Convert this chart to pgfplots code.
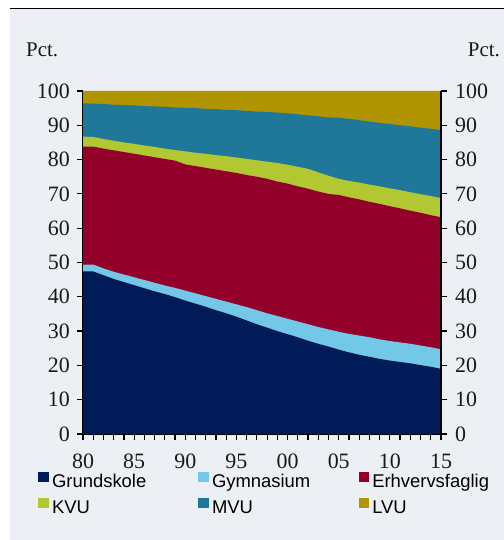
\documentclass[border=0pt]{standalone}
\usepackage{pgfplots}
\pgfplotsset{compat=1.18}
\usepackage{pgfplotstable}
\usepackage{fontspec}
\setmainfont{Liberation Serif}
\newfontfamily\legendfont{Liberation Sans}

\definecolor{bgcol}{HTML}{ECEFF3}
\definecolor{grundcol}{HTML}{001B58}
\definecolor{gymcol}{HTML}{72C8E6}
\definecolor{erhvcol}{HTML}{93002A}
\definecolor{kvucol}{HTML}{B2C832}
\definecolor{mvucol}{HTML}{1F7899}
\definecolor{lvucol}{HTML}{B09400}

% cumulative shares (top edge of each band), pct.
\pgfplotstableread{
year grund gym  erhv kvu  mvu  lvu
1980 47.4 49.4 83.8 86.7 96.4 100
1981 47.4 49.4 83.8 86.6 96.3 100
1982 46.3 48.3 83.2 86.0 96.2 100
1983 45.2 47.3 82.7 85.5 96.0 100
1984 44.3 46.5 82.2 85.0 95.9 100
1985 43.4 45.7 81.7 84.6 95.8 100
1986 42.5 44.9 81.2 84.1 95.6 100
1987 41.6 44.1 80.7 83.7 95.5 100
1988 40.8 43.3 80.2 83.2 95.4 100
1989 39.9 42.6 79.7 82.8 95.2 100
1990 38.9 41.8 78.6 82.4 95.1 100
1991 38.0 41.0 78.1 82.0 95.0 100
1992 37.1 40.2 77.6 81.7 94.8 100
1993 36.1 39.4 77.1 81.3 94.7 100
1994 35.2 38.6 76.6 81.0 94.5 100
1995 34.2 37.8 76.1 80.6 94.4 100
1996 33.1 37.0 75.5 80.2 94.2 100
1997 32.0 36.1 75.0 79.8 94.0 100
1998 31.0 35.2 74.4 79.4 93.9 100
1999 30.0 34.4 73.6 79.0 93.7 100
2000 29.1 33.6 73.0 78.5 93.5 100
2001 28.2 32.8 72.2 77.9 93.2 100
2002 27.2 32.0 71.5 77.3 92.9 100
2003 26.3 31.2 70.7 76.3 92.6 100
2004 25.5 30.5 70.0 75.3 92.3 100
2005 24.6 29.8 69.7 74.4 92.2 100
2006 23.8 29.2 69.0 73.8 91.9 100
2007 23.1 28.7 68.4 73.3 91.5 100
2008 22.5 28.2 67.7 72.7 91.1 100
2009 21.9 27.6 67.1 72.2 90.7 100
2010 21.4 27.1 66.4 71.6 90.4 100
2011 21.0 26.7 65.8 71.1 90.0 100
2012 20.6 26.3 65.1 70.5 89.7 100
2013 20.1 25.8 64.5 69.9 89.3 100
2014 19.6 25.3 63.8 69.4 89.0 100
2015 19.0 24.7 63.2 68.8 88.6 100
}\shares

\pgfplotsset{
  chartbase/.style={
    at={(83bp,106bp)}, anchor=south west,
    scale only axis, width=358bp, height=343bp,
    xmin=1980, xmax=2015, ymin=0, ymax=100,
    ytick={0,10,...,100},
    tick align=outside,
    major tick length=6bp, minor tick length=6bp,
    axis line style={-, line width=1.2bp, black},
    tick style={black, line width=1.2bp},
    tick label style={font=\fontsize{22}{24}\selectfont, text=black!90},
    /pgf/number format/assume math mode=true,
  },
}

\begin{document}
\begin{tikzpicture}
\fill[white] (0,0) rectangle (504bp,540bp);
\fill[bgcol] (10bp,0) rectangle (504bp,530.5bp);
\draw[black, line width=1bp] (10bp,531bp) -- (504bp,531bp);

\begin{axis}[
  chartbase,
  axis x line*=bottom, axis y line*=left,
  xtick={1980,1985,...,2015},
  xticklabels={80,85,90,95,00,05,10,15},
  minor x tick num=4,
  yticklabel style={inner sep=0pt, xshift=-7bp},
  xticklabel style={inner sep=0pt, yshift=-14bp},
  legend columns=3,
  legend cell align=left,
  legend image code/.code={\fill[#1] (0bp,0.7bp) rectangle (9.2bp,10bp);
                            \path[draw=none, fill=none] (0bp,0bp) -- (13.4bp,0bp);},
  legend style={
    at={(-0.1249,-0.1093)}, anchor=north west,
    draw=none, fill=none, inner sep=0pt,
    nodes={inner sep=0pt},
    font=\legendfont\fontsize{18.5}{20}\selectfont,
    row sep=8.6bp,
    /tikz/column 2/.style={column sep=52.1bp},
    /tikz/column 4/.style={column sep=48.3bp},
  },
]
\addplot[fill=lvucol, draw=none, forget plot] table[x=year, y=lvu] {\shares} \closedcycle;
\addplot[fill=mvucol, draw=none, forget plot] table[x=year, y=mvu] {\shares} \closedcycle;
\addplot[fill=kvucol, draw=none, forget plot] table[x=year, y=kvu] {\shares} \closedcycle;
\addplot[fill=erhvcol, draw=none, forget plot] table[x=year, y=erhv] {\shares} \closedcycle;
\addplot[fill=gymcol, draw=none, forget plot] table[x=year, y=gym] {\shares} \closedcycle;
\addplot[fill=grundcol, draw=none, forget plot] table[x=year, y=grund] {\shares} \closedcycle;

\addlegendimage{grundcol}\addlegendentry{Grundskole}
\addlegendimage{gymcol}\addlegendentry{Gymnasium}
\addlegendimage{erhvcol}\addlegendentry{Erhvervsfaglig}
\addlegendimage{kvucol}\addlegendentry{KVU}
\addlegendimage{mvucol}\addlegendentry{MVU}
\addlegendimage{lvucol}\addlegendentry{LVU}
\end{axis}

\begin{axis}[
  chartbase,
  axis x line=none, axis y line*=right,
  yticklabel style={inner sep=0pt, xshift=8bp},
]
\end{axis}

\node[anchor=base west, inner sep=0pt, font=\fontsize{21}{24}\selectfont, text=black!90] at (26bp,483bp) {Pct.};
\node[anchor=base west, inner sep=0pt, font=\fontsize{21}{24}\selectfont, text=black!90] at (467.7bp,483bp) {Pct.};

\pgfresetboundingbox
\useasboundingbox (0,0) rectangle (504bp,540bp);
\end{tikzpicture}
\end{document}
